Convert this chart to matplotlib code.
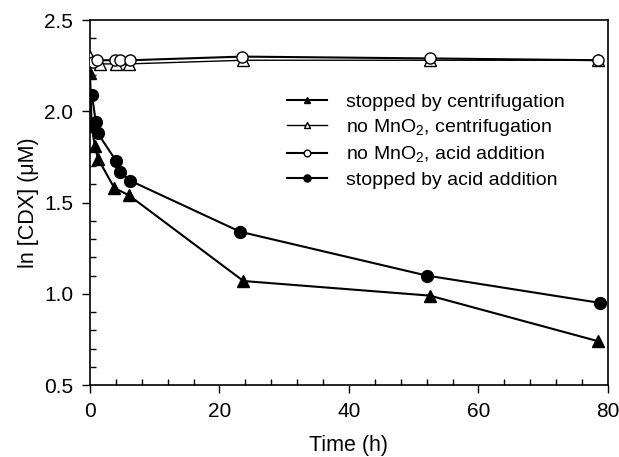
import matplotlib
matplotlib.use("Agg")
import matplotlib.pyplot as plt
from matplotlib.ticker import MultipleLocator

plt.rcParams['font.family'] = ['Liberation Sans', 'DejaVu Sans']
plt.rcParams['mathtext.fontset'] = 'custom'
plt.rcParams['mathtext.rm'] = 'Liberation Sans'

# stopped by centrifugation (filled triangles)
t_cent = [0, 0.25, 0.75, 1.25, 3.75, 6.0, 23.7, 52.5, 78.5]
y_cent = [2.21, 1.92, 1.81, 1.74, 1.58, 1.54, 1.07, 0.99, 0.74]

# no MnO2, centrifugation (open triangles)
t_nocent = [0, 1.5, 4.0, 6.0, 23.7, 52.5, 78.5]
y_nocent = [2.30, 2.26, 2.26, 2.26, 2.28, 2.28, 2.28]

# no MnO2, acid addition (open circles)
t_noacid = [0.5, 1.1, 3.9, 4.6, 6.2, 23.5, 52.5, 78.5]
y_noacid = [2.27, 2.28, 2.28, 2.28, 2.28, 2.30, 2.29, 2.28]

# stopped by acid addition (filled circles)
t_acid = [0.3, 0.9, 1.2, 4.0, 4.6, 6.2, 23.2, 52.0, 78.8]
y_acid = [2.09, 1.94, 1.88, 1.73, 1.67, 1.62, 1.34, 1.10, 0.95]

fig = plt.figure(figsize=(6.19, 4.57), dpi=100)
ax = fig.add_axes([0.1454, 0.1575, 0.8366, 0.7985])

ax.plot(t_cent, y_cent, '-', color='black', lw=1.5, marker='^', ms=8,
        mfc='black', mec='black', label='stopped by centrifugation', zorder=3)
ax.plot(t_nocent, y_nocent, '-', color='black', lw=1.0, marker='^', ms=8,
        mfc='white', mec='black', label='no MnO$_2$, centrifugation', zorder=3)
ax.plot(t_noacid, y_noacid, '-', color='black', lw=1.5, marker='o', ms=8,
        mfc='white', mec='black', label='no MnO$_2$, acid addition', zorder=4)
ax.plot(t_acid, y_acid, '-', color='black', lw=1.5, marker='o', ms=8.5,
        mfc='black', mec='black', label='stopped by acid addition', zorder=3)

ax.set_xlim(0, 80)
ax.set_ylim(0.5, 2.5)
ax.xaxis.set_major_locator(MultipleLocator(20))
ax.xaxis.set_minor_locator(MultipleLocator(4))
ax.yaxis.set_major_locator(MultipleLocator(0.5))
ax.yaxis.set_minor_locator(MultipleLocator(0.1))
ax.yaxis.set_major_formatter(matplotlib.ticker.FormatStrFormatter('%.1f'))
ax.tick_params(which='major', direction='out', length=6, width=1, labelsize=15, pad=6)
ax.tick_params(which='minor', direction='in', length=4, width=1)
for s in ax.spines.values():
    s.set_linewidth(1.2)

ax.set_xlabel('Time (h)', fontsize=15.5, labelpad=10)
ax.set_ylabel('ln [CDX] (\u03bcM)', fontsize=15.5, labelpad=4)

leg = ax.legend(loc='upper left', bbox_to_anchor=(0.38, 0.80), frameon=False,
                fontsize=14, markerscale=0.6, handlelength=2.05, handletextpad=1.0,
                labelspacing=0.33, borderpad=0.0, borderaxespad=0.0)

fig.savefig('out.png', dpi=100)
